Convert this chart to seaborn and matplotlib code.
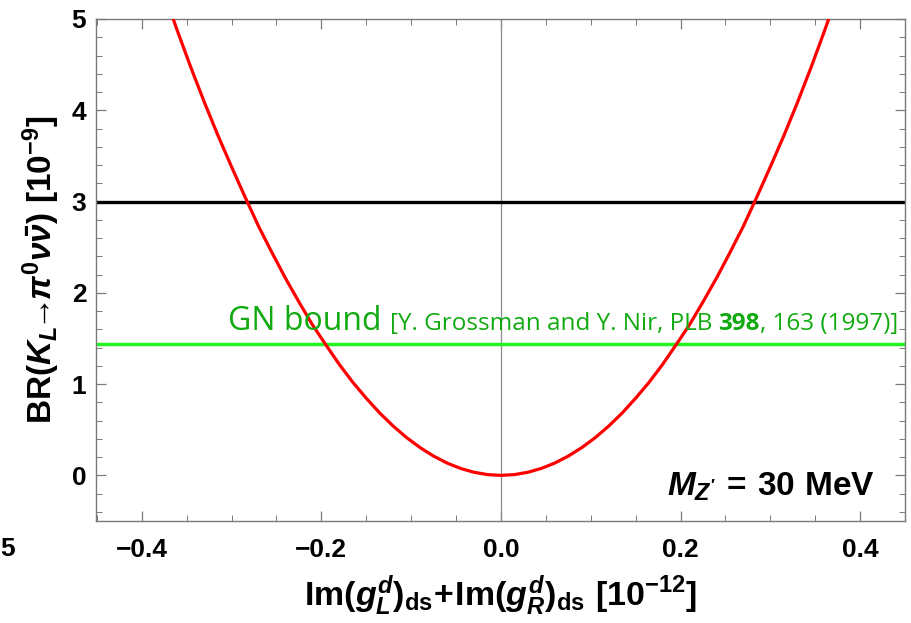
import numpy as np
import pandas as pd
import matplotlib
matplotlib.use("Agg")
import matplotlib.pyplot as plt
import seaborn as sns

# Data
x_vals = [-0.365, -0.36, -0.345, -0.33, -0.315, -0.30, -0.285, -0.27, -0.255, -0.24, -0.225,
          -0.21, -0.195, -0.18, -0.165, -0.15, -0.135, -0.12, -0.105, -0.09, -0.075, -0.06,
          -0.045, -0.03, -0.015, 0.0,
          0.015, 0.03, 0.045, 0.06, 0.075, 0.09, 0.105, 0.12, 0.135, 0.15, 0.165, 0.18, 0.195,
          0.21, 0.225, 0.24, 0.255, 0.27, 0.285, 0.30, 0.315, 0.33, 0.345, 0.36, 0.365]
br_vals = [5.0, 4.86, 4.46, 4.08, 3.72, 3.38, 3.05, 2.73, 2.44, 2.16, 1.90,
           1.65, 1.43, 1.215, 1.02, 0.845, 0.683, 0.54, 0.413, 0.304, 0.211, 0.135,
           0.076, 0.034, 0.0084, 0.0,
           0.0084, 0.034, 0.076, 0.135, 0.211, 0.304, 0.413, 0.54, 0.683, 0.845, 1.02, 1.215, 1.43,
           1.65, 1.90, 2.16, 2.44, 2.73, 3.05, 3.38, 3.72, 4.08, 4.46, 4.86, 5.0]
black_level = 3.0
gn_bound = 1.435
x_ticks = [-0.4, -0.2, 0.0, 0.2, 0.4]
y_ticks = [0, 1, 2, 3, 4, 5]

sns.set_theme(style="ticks")
plt.rcParams['font.family'] = ['Liberation Sans', 'DejaVu Sans']
plt.rcParams['font.weight'] = 'bold'
plt.rcParams['text.color'] = 'black'
plt.rcParams['axes.labelcolor'] = 'black'
plt.rcParams['xtick.labelcolor'] = 'black'
plt.rcParams['ytick.labelcolor'] = 'black'
plt.rcParams['mathtext.fontset'] = 'custom'
plt.rcParams['mathtext.rm'] = 'Liberation Sans:bold'
plt.rcParams['mathtext.bf'] = 'Liberation Sans:bold'
plt.rcParams['mathtext.it'] = 'Liberation Sans:bold:italic'
plt.rcParams['mathtext.sf'] = 'Liberation Sans:bold'

fig = plt.figure(figsize=(9.12, 6.23), dpi=100)
ax = fig.add_axes([96/912, 102/623, (905-96)/912, (521-19)/623])

df = pd.DataFrame({"x": x_vals, "br": br_vals})
ax.axvline(0, color="#8c8c8c", lw=0.9, zorder=1)
ax.axhline(black_level, color="black", lw=2.4, zorder=2)
ax.axhline(gn_bound, color="#22f522", lw=2.5, zorder=2)
sns.lineplot(data=df, x="x", y="br", ax=ax, color="#ff0000", lw=2.3, sort=False, zorder=3)

ax.set_xlim(-0.451, 0.447)
ax.set_ylim(-0.5, 5.0)
for s in ax.spines.values():
    s.set_color("#7a7a7a")
    s.set_linewidth(1.0)
ax.tick_params(which="both", direction="in", top=True, right=True, color="#7a7a7a",
               labelcolor="black")
ax.tick_params(which="major", length=7, width=0.9, pad=7)
ax.tick_params(which="minor", length=4, width=0.7)
ax.tick_params(axis="x", which="major", pad=12)
ax.tick_params(labeltop=False, labelright=False)
ax.set_xticks(x_ticks)
ax.set_xticklabels([f"{v:.1f}".replace("-", "\u2212") for v in x_ticks],
                   fontsize=19, fontweight="bold", family="Liberation Sans", color="black")
ax.set_yticks(y_ticks)
ax.set_yticklabels([str(v) for v in y_ticks], fontsize=19, fontweight="bold",
                   family="Liberation Sans", color="black")
ax.set_xticks(np.arange(-0.45, 0.4501, 0.05), minor=True)
ax.set_yticks(np.arange(-0.4, 5.0, 0.2), minor=True)

ax.set_xlabel(r"$\mathrm{Im}(g^{d}_{L})_{\mathrm{ds}}\!+\!\mathrm{Im}(g^{d}_{R})_{\mathrm{ds}}\ [10^{-12}]$",
              fontsize=24.5, labelpad=8, color="black")
ax.set_ylabel(r"$\mathrm{BR}(K_{L}\!\!\rightarrow\!\!\pi^{0}\nu\bar{\nu})\ [10^{-9}]$",
              fontsize=24, labelpad=7, color="black")

# GN bound label
gtxt = "#11aa11"
ybl = gn_bound + 0.155
t1 = ax.text(-0.304, ybl, "GN bound ", color=gtxt, fontsize=23,
             fontweight="normal", family="Open Sans", ha="left", va="baseline")
t2 = ax.annotate("[Y. Grossman and Y. Nir, PLB ", xy=(1, ybl), xycoords=(t1, "data"),
                 color=gtxt, fontsize=17.5, fontweight="normal", family="Open Sans",
                 ha="left", va="baseline")
t3 = ax.annotate("398", xy=(1, ybl), xycoords=(t2, "data"),
                 color=gtxt, fontsize=17.5, fontweight="bold", family="Open Sans",
                 ha="left", va="baseline")
t4 = ax.annotate(", 163 (1997)]", xy=(1, ybl), xycoords=(t3, "data"),
                 color=gtxt, fontsize=17.5, fontweight="normal", family="Open Sans",
                 ha="left", va="baseline")

ax.text(0.416, -0.22, r"$M_{Z'}\,=\,\mathrm{30\ MeV}$", fontsize=24, ha="right",
        va="baseline", color="black")

fig.text(0.0, 623 - 556, "5", transform=None, fontsize=19, fontweight="bold", color="black")

fig.savefig("out.png", dpi=100)
